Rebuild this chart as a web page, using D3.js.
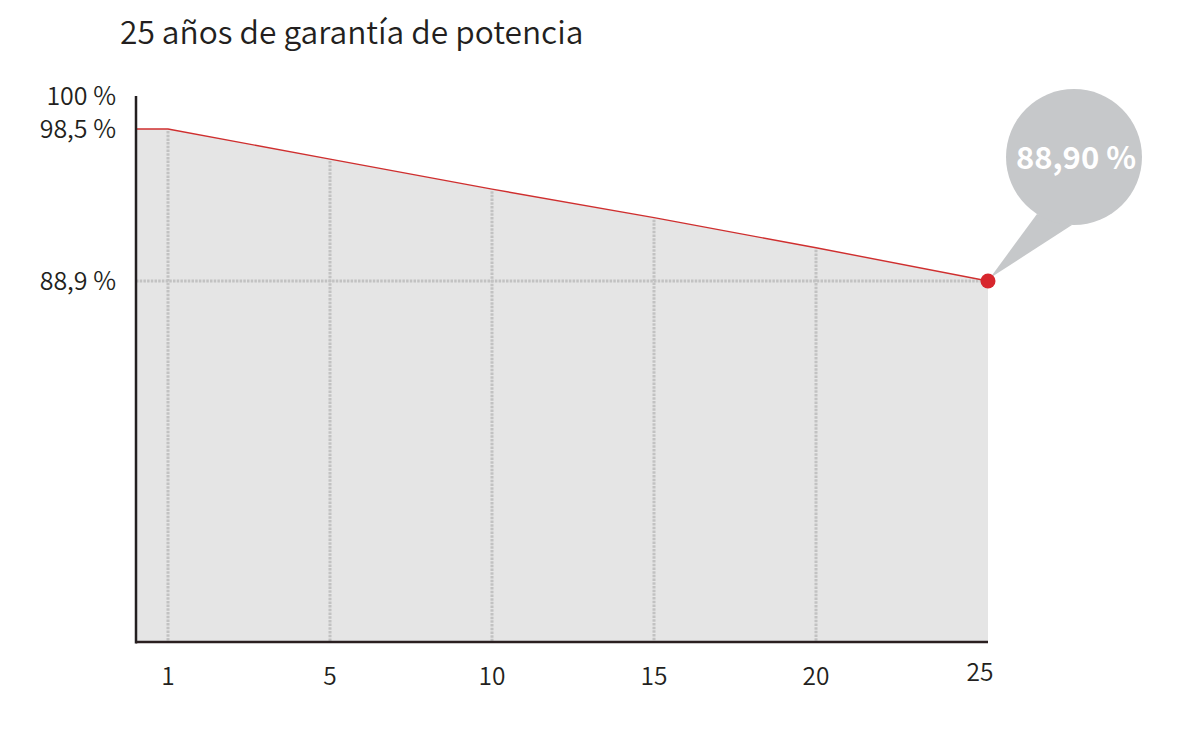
<!DOCTYPE html>
<html><head><meta charset="utf-8">
<script src="https://cdn.jsdelivr.net/npm/d3@7"></script>
<style>
html,body{margin:0;padding:0;background:#fff;}
svg{display:block;font-family:"Noto Sans CJK SC","Noto Sans",sans-serif;}
</style></head>
<body>
<svg id="chart" width="1186" height="734"></svg>
<script>
const title = "25 años de garantía de potencia";
const years = [0, 1, 5, 10, 15, 20, 25];
const power = [98.5, 98.5, 96.6, 94.7, 92.9, 91.0, 88.9];
const xTicks = [1, 5, 10, 15, 20, 25];
const gridYears = [1, 5, 10, 15, 20];
const yTickValues = [100, 98.5, 88.9];
const yTickLabels = ["100 %", "98,5 %", "88,9 %"];

const data = years.map((y, i) => ({year: y, value: power[i]}));
const last = data[data.length - 1];

const svg = d3.select("#chart");
const x = d3.scaleLinear().domain([0, 1, 5, 20, 25]).range([136, 168, 330, 816, 988]);
const y = d3.scaleLinear().domain([66, 88.9, 98.5, 100]).range([642, 281, 129, 96]);

svg.append("text").attr("x", 120).attr("y", 44)
  .attr("font-size", 31.7).attr("font-weight", 350).attr("fill", "#231f20").text(title);

// area
const area = d3.area().x(d => x(d.year)).y0(y(66)).y1(d => y(d.value));
svg.append("path").datum(data).attr("d", area).attr("fill", "#e5e5e5");

// vertical grid from line to bottom
const valueAt = yr => {
  const i = d3.bisectLeft(years, yr);
  if (years[i] === yr) return power[i];
  const t = (yr - years[i-1]) / (years[i] - years[i-1]);
  return power[i-1] + t * (power[i] - power[i-1]);
};
svg.append("g").selectAll("line").data(gridYears).join("line")
  .attr("x1", d => x(d)).attr("x2", d => x(d))
  .attr("y1", d => y(valueAt(d)) + 2).attr("y2", y(66))
  .attr("stroke", "#c2c2c2").attr("stroke-width", 3).attr("stroke-dasharray", "2.5,1.2");

// horizontal grid at last value
svg.append("line").attr("x1", x(0)).attr("x2", x(25) - 4)
  .attr("y1", y(last.value)).attr("y2", y(last.value))
  .attr("stroke", "#c2c2c2").attr("stroke-width", 3).attr("stroke-dasharray", "2.5,1.2");

// line
const line = d3.line().x(d => x(d.year)).y(d => y(d.value));
svg.append("path").datum(data).attr("d", line).attr("fill", "none")
  .attr("stroke", "#cf2f2f").attr("stroke-width", 1.4);

// axes
svg.append("line").attr("x1", x(0)).attr("x2", x(0)).attr("y1", y(100)).attr("y2", y(66) + 1.5)
  .attr("stroke", "#231f20").attr("stroke-width", 2.5);
svg.append("line").attr("x1", x(0)).attr("x2", x(25)).attr("y1", y(66)).attr("y2", y(66))
  .attr("stroke", "#2a1f20").attr("stroke-width", 2.5);

// y labels
svg.append("g").selectAll("text").data(yTickValues).join("text")
  .attr("x", 116).attr("y", d => y(d) + 9)
  .attr("text-anchor", "end").attr("font-size", 25).attr("font-weight", 350).attr("fill", "#231f20")
  .text((d, i) => yTickLabels[i]);

// x labels
svg.append("g").selectAll("text").data(xTicks).join("text")
  .attr("x", d => x(d) - (d === 25 ? 8 : 0)).attr("y", d => d === 25 ? 681 : 685)
  .attr("text-anchor", "middle").attr("font-size", 24.5).attr("font-weight", 350).attr("fill", "#231f20")
  .text(d => d);

// callout bubble
const px = x(last.year), py = y(last.value);
const cx = px + 86, cy = py - 124, r = 68;
svg.append("path")
  .attr("d", `M${px + 2},${py - 3} L${cx - 37},${cy + 57} L${cx - 2},${cy + 68} Z`)
  .attr("fill", "#c6c8ca");
svg.append("circle").attr("cx", cx).attr("cy", cy).attr("r", r).attr("fill", "#c6c8ca");
svg.append("text").attr("x", cx + 2).attr("y", cy + 12)
  .attr("text-anchor", "middle").attr("font-size", 31).attr("font-weight", 700)
  .attr("fill", "#fff").text(last.value.toFixed(2).replace(".", ",") + " %");

// red dot
svg.append("circle").attr("cx", px).attr("cy", py).attr("r", 7.5).attr("fill", "#d7262d");
</script>
</body></html>
